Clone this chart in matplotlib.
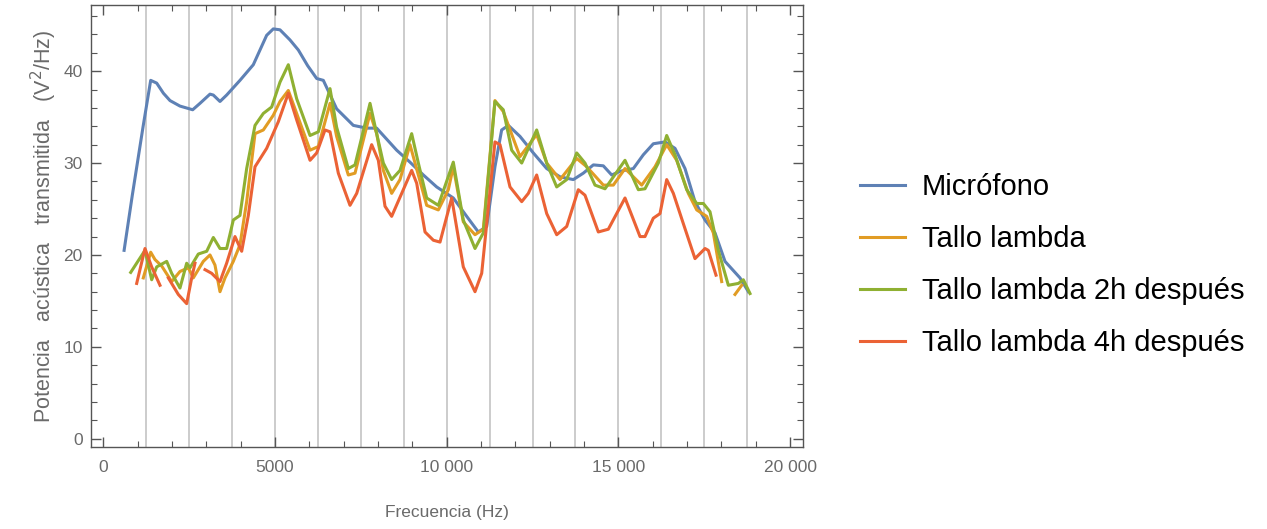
import numpy as np
import matplotlib
matplotlib.use('Agg')
import matplotlib.pyplot as plt
from matplotlib.ticker import MultipleLocator, FuncFormatter

plt.rcParams['font.family'] = ['Liberation Sans', 'DejaVu Sans']

nan = np.nan

# Micrófono
mic_f = [606, 845, 1160, 1380, 1555, 1750, 1942, 2233, 2603, 2816, 3107, 3204, 3398, 3592,
         3980, 4368, 4757, 4950, 5145, 5436, 5680, 5950, 6214, 6407, 6795, 7280, 7670, 7960,
         8543, 8930, 9320, 9708, 10192, 10582, 10920, 11165, 11405, 11600, 11795, 12134,
         12522, 12912, 13300, 13687, 13978, 14270, 14560, 14805, 15046, 15434, 15725, 16016,
         16357, 16648, 16939, 17230, 17522, 17813, 18104, 18541, 18784]
mic_v = [20.5, 26.5, 34.0, 39.0, 38.7, 37.6, 36.8, 36.2, 35.8, 36.5, 37.5, 37.4, 36.7, 37.4,
         39.0, 40.7, 43.9, 44.6, 44.5, 43.4, 42.3, 40.6, 39.2, 39.0, 35.9, 34.1, 33.8, 33.8,
         31.4, 30.1, 28.7, 27.4, 26.2, 24.2, 22.5, 23.1, 29.6, 33.6, 34.1, 32.9,
         31.1, 29.4, 28.5, 28.2, 28.9, 29.8, 29.7, 28.7, 29.1, 29.4, 30.9, 32.1,
         32.3, 31.6, 29.4, 25.8, 23.8, 22.4, 19.3, 17.5, 16.0]

# Tallo lambda
t0_f = [1165, 1380, 1505, 1700, 1991, 2233, 2476, 2621, 2912, 3107, 3252, 3398, 3544, 3786,
        3980, 4175, 4418, 4660, 4950, 5145, 5388, 5631, 6020, 6262, 6602, 6795, 7135, 7330,
        7767, 7961, 8155, 8397, 8640, 8931, 9174, 9417, 9756, 10047, 10192, 10483, 10824,
        11066, 11405, 11648, 12134, 12620, 12912, 13300, 13786, 14076, 14560, 14852, 15192,
        15678, 16066, 16406, 16697, 17036, 17280, 17570, 17764, 18007, 18200, 18395, 18590]
t0_v = [17.5, 20.3, 19.5, 18.8, 17.1, 18.2, 18.6, 17.5, 19.3, 20.0, 18.9, 16.0, 17.5, 19.3,
        21.1, 25.8, 33.2, 33.6, 35.2, 36.7, 37.9, 35.4, 31.4, 31.8, 36.5, 32.9, 28.7, 28.9,
        35.4, 33.2, 29.2, 26.7, 28.2, 32.0, 28.7, 25.4, 24.9, 27.1, 29.6, 23.6, 22.2,
        22.8, 36.8, 35.6, 30.7, 33.1, 30.0, 28.2, 30.5, 29.6, 27.6, 27.6, 29.4,
        27.6, 29.6, 32.0, 30.3, 26.7, 24.9, 24.2, 22.4, 17.1, nan, 15.7, 16.7]

# Tallo lambda 2h después
t2_f = [798, 1214, 1409, 1555, 1846, 1991, 2233, 2428, 2525, 2767, 3011, 3204, 3398, 3592,
        3786, 3980, 4175, 4418, 4660, 4903, 5145, 5388, 5631, 6020, 6262, 6602, 6795, 7135,
        7330, 7767, 7961, 8155, 8397, 8640, 8980, 9174, 9417, 9756, 10192, 10483, 10824,
        11066, 11405, 11648, 11892, 12184, 12620, 12912, 13203, 13494, 13786, 14027, 14318,
        14610, 15192, 15580, 15774, 16162, 16406, 16648, 16988, 17280, 17473, 17667, 17910,
        18201, 18492, 18638, 18832]
t2_v = [18.1, 20.5, 17.3, 18.7, 19.3, 18.0, 16.4, 19.1, 18.6, 20.1, 20.4, 21.9, 20.7, 20.7,
        23.8, 24.3, 29.4, 34.1, 35.4, 36.1, 38.8, 40.7, 37.0, 33.0, 33.4, 38.1, 33.9, 29.4,
        29.8, 36.5, 33.2, 30.0, 28.2, 29.2, 33.2, 30.0, 26.2, 25.4, 30.1, 23.8, 20.7,
        22.4, 36.7, 35.8, 31.4, 30.0, 33.6, 30.0, 27.4, 28.2, 31.1, 30.0, 27.6,
        27.2, 30.3, 27.1, 27.2, 30.0, 33.0, 30.9, 27.1, 25.6, 25.6, 24.7, 20.5,
        16.7, 16.9, 17.3, 15.8]

# Tallo lambda 4h después
t4_f = [972, 1214, 1409, 1651, 1780, 1894, 2184, 2428, 2574, 2670, 2820, 2962, 3156, 3398,
        3592, 3835, 4030, 4223, 4418, 4757, 5097, 5388, 5631, 6020, 6214, 6456, 6602, 6844,
        7184, 7379, 7815, 8009, 8203, 8397, 8736, 8980, 9126, 9368, 9611, 9805, 10145, 10483,
        10824, 11019, 11405, 11552, 11843, 12184, 12377, 12620, 12912, 13203, 13494, 13832,
        14027, 14415, 14706, 15192, 15629, 15774, 16016, 16211, 16406, 16600, 16891, 17230,
        17522, 17618, 17842]
t4_v = [16.9, 20.7, 18.7, 16.7, nan, 17.5, 15.7, 14.7, 17.5, 19.1, nan, 18.4, 18.0, 17.1,
        19.1, 22.0, 20.4, 24.3, 29.6, 31.6, 34.5, 37.6, 34.7, 30.3, 31.1, 33.6, 33.4, 28.9,
        25.4, 26.7, 32.0, 30.3, 25.3, 24.2, 27.1, 29.2, 27.8, 22.5, 21.6, 21.4, 26.2, 18.7,
        16.0, 18.0, 32.3, 32.0, 27.4, 25.8, 26.7, 28.7, 24.5, 22.2, 23.1, 27.1,
        26.5, 22.5, 22.8, 26.2, 22.0, 22.0, 24.0, 24.5, 28.2, 26.7, 23.4, 19.6,
        20.7, 20.5, 17.8]

labels = ['Micrófono', 'Tallo lambda', 'Tallo lambda 2h después', 'Tallo lambda 4h después']
colors = ['#5E81B5', '#E19C24', '#8FB032', '#EB6235']
grid_x = [1250 * k for k in range(1, 16)]

fig = plt.figure(figsize=(12.67, 5.29), dpi=100)
ax = fig.add_axes([91 / 1267, 1 - 447 / 529, (803 - 91) / 1267, (447 - 5) / 529])

for gx in grid_x:
    ax.axvline(gx, color='#c8c8c8', lw=1.3, zorder=1)

series = [(mic_f, mic_v), (t0_f, t0_v), (t2_f, t2_v), (t4_f, t4_v)]
for (f, v), lab, c in zip(series, labels, colors):
    ax.plot(f, v, color=c, lw=2.2, label=lab, zorder=3)

ax.set_xlim(-358, 20375)
ax.set_ylim(-0.9, 47.2)

ax.xaxis.set_major_locator(MultipleLocator(5000))
ax.xaxis.set_minor_locator(MultipleLocator(1000))
ax.yaxis.set_major_locator(MultipleLocator(10))
ax.yaxis.set_minor_locator(MultipleLocator(2))


def fmt_x(v, pos):
    v = int(round(v))
    if v >= 10000:
        return f'{v // 1000} {v % 1000:03d}'
    return str(v)


ax.xaxis.set_major_formatter(FuncFormatter(fmt_x))

frame_col = '#555555'
text_col = '#6a6a6a'
ax.tick_params(which='both', direction='in', top=True, right=True, color=frame_col,
               labelcolor=text_col, labelsize=12.5)
ax.tick_params(which='major', length=7, width=1.0)
ax.tick_params(which='minor', length=4, width=0.8)
ax.tick_params(axis='x', pad=9)
ax.tick_params(axis='y', pad=6)
for sp in ax.spines.values():
    sp.set_color(frame_col)
    sp.set_linewidth(1.0)

ax.set_xlabel('Frecuencia (Hz)', color=text_col, fontsize=12.5, labelpad=22)
ax.set_ylabel('Potencia   acústica   transmitida   (V$^2$/Hz)', color=text_col, fontsize=15.5,
              labelpad=3)

fig.legend(loc='center left', bbox_to_anchor=(860 / 1267, 1 - 265 / 529), frameon=False,
           fontsize=21, handlelength=1.55, handletextpad=0.58, labelspacing=0.82,
           borderpad=0, borderaxespad=0)

fig.savefig('out.png', dpi=100)
